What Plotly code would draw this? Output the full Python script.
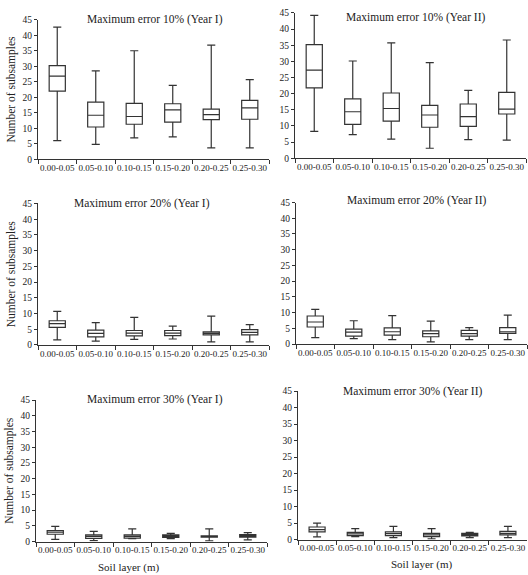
import plotly.graph_objects as go

categories = ["0.00-0.05", "0.05-0.10", "0.10-0.15", "0.15-0.20", "0.20-0.25", "0.25-0.30"]

titles = [
    "Maximum error 10% (Year I)", "Maximum error 10% (Year II)",
    "Maximum error 20% (Year I)", "Maximum error 20% (Year II)",
    "Maximum error 30% (Year I)", "Maximum error 30% (Year II)",
]

# Panel 1: 10% Year I
p1_min = [6.0, 4.8, 6.9, 7.2, 3.7, 3.7]
p1_q1 = [22.0, 10.4, 11.3, 12.0, 12.8, 12.9]
p1_med = [26.8, 14.2, 13.8, 15.9, 14.4, 16.6]
p1_q3 = [30.2, 18.4, 18.0, 17.9, 16.2, 19.0]
p1_max = [42.6, 28.5, 35.0, 23.8, 36.8, 25.7]

# Panel 2: 10% Year II
p2_min = [8.3, 7.3, 5.9, 3.1, 5.8, 5.6]
p2_q1 = [21.8, 10.5, 11.5, 9.6, 9.9, 13.7]
p2_med = [27.3, 14.4, 15.4, 13.4, 12.9, 15.2]
p2_q3 = [35.2, 18.4, 20.2, 16.4, 16.8, 20.4]
p2_max = [44.2, 30.1, 35.7, 29.6, 21.0, 36.6]

# Panel 3: 20% Year I
p3_min = [1.6, 1.2, 1.8, 1.9, 1.0, 1.0]
p3_q1 = [5.6, 2.6, 2.9, 3.0, 3.2, 3.2]
p3_med = [6.8, 3.7, 3.8, 3.8, 3.7, 4.0]
p3_q3 = [7.7, 4.7, 4.6, 4.6, 4.2, 4.9]
p3_max = [10.7, 7.1, 8.8, 6.0, 9.2, 6.5]

# Panel 4: 20% Year II
p4_min = [2.0, 1.7, 1.4, 0.7, 1.4, 1.4]
p4_q1 = [5.4, 2.5, 2.8, 2.3, 2.5, 3.4]
p4_med = [7.0, 3.8, 3.9, 3.3, 3.3, 3.9]
p4_q3 = [8.9, 4.7, 5.1, 4.2, 4.3, 5.2]
p4_max = [11.0, 7.4, 9.0, 7.3, 5.2, 9.2]

# Panel 5: 30% Year I
p5_min = [0.7, 0.3, 0.9, 0.9, 0.2, 0.5]
p5_q1 = [2.3, 1.0, 1.1, 1.3, 1.4, 1.4]
p5_med = [3.0, 1.6, 1.6, 1.7, 1.6, 1.8]
p5_q3 = [3.5, 2.1, 2.1, 2.1, 1.8, 2.2]
p5_max = [4.8, 3.2, 4.0, 2.6, 4.0, 2.8]

# Panel 6: 30% Year II
p6_min = [0.8, 0.9, 0.6, 0.2, 0.6, 0.6]
p6_q1 = [2.3, 1.2, 1.2, 0.9, 1.1, 1.4]
p6_med = [3.0, 1.7, 1.8, 1.4, 1.5, 1.9]
p6_q3 = [3.8, 2.2, 2.3, 1.9, 1.9, 2.5]
p6_max = [5.0, 3.3, 4.0, 3.3, 2.2, 4.0]

panels = [
    (p1_min, p1_q1, p1_med, p1_q3, p1_max),
    (p2_min, p2_q1, p2_med, p2_q3, p2_max),
    (p3_min, p3_q1, p3_med, p3_q3, p3_max),
    (p4_min, p4_q1, p4_med, p4_q3, p4_max),
    (p5_min, p5_q1, p5_med, p5_q3, p5_max),
    (p6_min, p6_q1, p6_med, p6_q3, p6_max),
]

W, H = 528, 575
# pixel boxes of plot areas: (x0, x1, ytop, ybottom)
areas = [
    (38, 269, 15, 157),
    (295, 526, 8, 156),
    (38, 269, 202, 346),
    (296, 527, 201, 345),
    (36, 267, 402, 546),
    (298, 527, 393, 544),
]
title_pos = [(155, 15), (416, 13), (142, 202), (417, 199), (155, 401), (413, 393)]

FONT = "Liberation Serif, Times New Roman, serif"
TXT = "#222222"
LINE = "#333333"

fig = go.Figure()
layout = dict(
    width=W, height=H,
    margin=dict(l=0, r=0, t=0, b=0),
    paper_bgcolor="white", plot_bgcolor="white",
    showlegend=False,
    font=dict(family=FONT, color=TXT, size=9),
    annotations=[],
)

for i, (vals, area, tp, ttl) in enumerate(zip(panels, areas, title_pos, titles)):
    n = i + 1
    xa = "x" if n == 1 else f"x{n}"
    ya = "y" if n == 1 else f"y{n}"
    mn, q1, med, q3, mx = vals
    fig.add_trace(go.Box(
        x=categories, q1=q1, median=med, q3=q3,
        lowerfence=mn, upperfence=mx,
        xaxis=xa, yaxis=ya,
        boxpoints=False, width=0.42, whiskerwidth=0.5,
        fillcolor="white", line=dict(color=LINE, width=1.2),
        hoverinfo="skip",
    ))
    x0, x1, yt, yb = area
    xkey = "xaxis" if n == 1 else f"xaxis{n}"
    ykey = "yaxis" if n == 1 else f"yaxis{n}"
    layout[xkey] = dict(
        domain=[x0 / W, x1 / W], anchor=ya,
        type="category", categoryorder="array", categoryarray=categories,
        range=[-0.5, 5.5], tickson="boundaries", tickangle=0,
        showline=True, linecolor=LINE, linewidth=1,
        ticks="outside", ticklen=4, tickcolor=LINE,
        showgrid=False, zeroline=False,
        tickfont=dict(family=FONT, size=9, color=TXT),
        fixedrange=True,
    )
    layout[ykey] = dict(
        domain=[1 - yb / H, 1 - yt / H], anchor=xa,
        range=[0, 45], dtick=5, tick0=0,
        showline=True, linecolor=LINE, linewidth=1,
        ticks="outside", ticklen=3, tickcolor=LINE,
        showgrid=False, zeroline=False,
        tickfont=dict(family=FONT, size=9.5, color=TXT),
        fixedrange=True,
    )
    if n % 2 == 1:
        layout[ykey]["title"] = dict(text="Number of subsamples",
                                      font=dict(family=FONT, size=11.5, color=TXT),
                                      standoff=4)
    layout["annotations"].append(dict(
        text=ttl, x=tp[0] / W, y=1 - tp[1] / H, xref="paper", yref="paper",
        xanchor="center", yanchor="middle", showarrow=False,
        font=dict(family=FONT, size=11.5, color=TXT),
    ))

for (cx, cy) in [(128, 572), (421, 569)]:
    layout["annotations"].append(dict(
        text="Soil layer (m)", x=cx / W, y=1 - cy / H, xref="paper", yref="paper",
        xanchor="center", yanchor="middle", showarrow=False,
        font=dict(family=FONT, size=11, color=TXT),
    ))

fig.update_layout(**layout)
fig.write_html("out.html")
